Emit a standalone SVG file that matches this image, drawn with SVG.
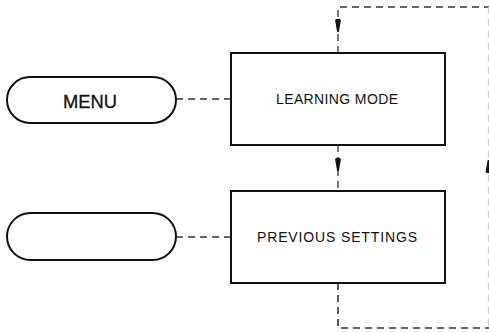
<svg xmlns="http://www.w3.org/2000/svg" xmlns:xlink="http://www.w3.org/1999/xlink" width="489" height="333" viewBox="0 0 489 333">
<style>
.node{fill:#fff;stroke:#111;stroke-width:2}
.dash{fill:none;stroke:#333;stroke-width:1.3;stroke-dasharray:7 5}
.lbl{font-family:"Liberation Sans",Arial,sans-serif;fill:#111;text-anchor:middle}
.big{stroke:#111;stroke-width:0.3}
.arr{fill:#111}
</style>
<defs>
<path id="ah" d="M-3,-6 Q0,-8.5 3,-6 L0.8,6 L-0.8,6 Z"/>
</defs>
<rect width="489" height="333" fill="#fff"/>
<g id="connectors">
<path class="dash" d="M176,99 H231"/>
<path class="dash" d="M176,237 H231"/>
<path class="dash" d="M338,53 V7 H489"/>
<path class="dash" d="M338,145 V191"/>
<path class="dash" d="M338,283 V328 H489" style="stroke-width:1.6"/>
<path class="dash" d="M488.5,7 V328" style="stroke:#ccc"/>
<use href="#ah" class="arr" x="338" y="26"/>
<use href="#ah" class="arr" x="338" y="165"/>
<use href="#ah" class="arr" transform="translate(488.5,166) rotate(180)"/>
</g>
<g id="menu">
<rect class="node" x="7" y="77" width="169" height="46" rx="23"/>
<text class="lbl big" x="90" y="107.5" font-size="19" textLength="54" lengthAdjust="spacingAndGlyphs">MENU</text>
</g>
<g id="blank">
<rect class="node" x="7" y="213" width="169" height="47" rx="23.5"/>
</g>
<g id="learning">
<rect class="node" x="231" y="53" width="214" height="92"/>
<text class="lbl" x="337" y="104" font-size="14" textLength="122" lengthAdjust="spacing">LEARNING MODE</text>
</g>
<g id="previous">
<rect class="node" x="231" y="191" width="214" height="92"/>
<text class="lbl" x="337" y="242" font-size="14" textLength="160" lengthAdjust="spacing">PREVIOUS SETTINGS</text>
</g>
</svg>
